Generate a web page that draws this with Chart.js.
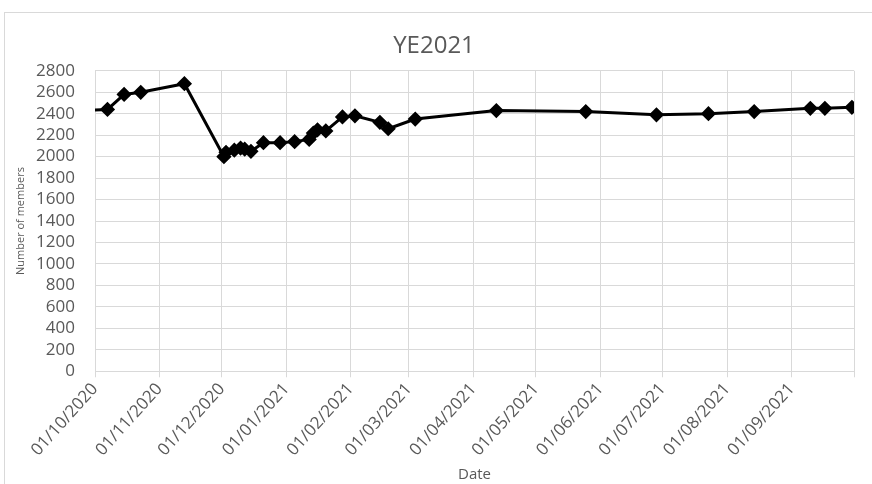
<!DOCTYPE html>
<html>
<head>
<meta charset="utf-8">
<script src="https://cdn.jsdelivr.net/npm/chart.js@4"></script>
<style>
  html, body { margin: 0; padding: 0; background: #fff; }
  #frame { position: absolute; left: 4px; top: 12px; width: 880px; height: 480px; border: 1px solid #d9d9d9; }
  #wrap { position: absolute; left: 0; top: 0; width: 872px; height: 484px; }
</style>
</head>
<body>
<div id="frame"></div>
<div id="wrap"><canvas id="lineChart" width="872" height="484"></canvas></div>
<script>
// membership counts by date (dd/mm/yyyy)
var dates = ['27/09/2020', '07/10/2020', '15/10/2020', '23/10/2020', '13/11/2020',
    '02/12/2020', '03/12/2020', '07/12/2020', '10/12/2020', '12/12/2020', '15/12/2020',
    '21/12/2020', '29/12/2020', '05/01/2021', '12/01/2021', '14/01/2021', '16/01/2021',
    '20/01/2021', '28/01/2021', '03/02/2021', '15/02/2021', '19/02/2021', '04/03/2021',
    '12/04/2021', '25/05/2021', '28/06/2021', '23/07/2021', '14/08/2021', '10/09/2021',
    '17/09/2021', '30/09/2021'];
var members = [2430, 2440, 2580, 2600, 2680,
    2000, 2040, 2060, 2080, 2070, 2050,
    2130, 2130, 2140, 2160, 2220, 2250,
    2240, 2370, 2380, 2320, 2260, 2350,
    2430, 2420, 2390, 2400, 2420, 2450,
    2450, 2460];
var tickLabels = ['01/10/2020', '01/11/2020', '01/12/2020', '01/01/2021', '01/02/2021',
    '01/03/2021', '01/04/2021', '01/05/2021', '01/06/2021', '01/07/2021', '01/08/2021',
    '01/09/2021'];
var axisStart = '01/10/2020';
var axisEnd = '01/10/2021';

function dayNum(s) {
    var p = s.split('/').map(Number);
    return Date.UTC(p[2], p[1] - 1, p[0]) / 864e5;
}

var points = dates.map(function (d, i) { return {x: dayNum(d), y: members[i]}; });
var labelByDay = {};
tickLabels.forEach(function (t) { labelByDay[dayNum(t)] = t; });

var grey = '#595959';
var gridCol = '#d9d9d9';
var font = "'Open Sans', sans-serif";

var ctx = document.getElementById('lineChart').getContext('2d');
new Chart(ctx, {
    type: 'line',
    data: {
        datasets: [{
            label: 'Members',
            data: points,
            borderColor: '#000',
            backgroundColor: '#000',
            borderWidth: 3,
            pointStyle: 'rectRot',
            pointRadius: 5.5,
            pointBackgroundColor: '#000',
            pointBorderColor: '#000',
            tension: 0
        }]
    },
    options: {
        responsive: false,
        animation: false,
        layout: {padding: {left: 14, right: 18, top: 32, bottom: 0}},
        plugins: {
            legend: {display: false},
            tooltip: {enabled: false},
            title: {
                display: true,
                text: 'YE2021',
                color: grey,
                font: {family: font, size: 24, weight: 'normal'},
                padding: {top: 0, bottom: 10}
            }
        },
        scales: {
            x: {
                type: 'linear',
                min: dayNum(axisStart),
                max: dayNum(axisEnd),
                afterBuildTicks: function (scale) {
                    scale.ticks = tickLabels.map(function (t) { return {value: dayNum(t)}; })
                        .concat([{value: dayNum(axisEnd)}]);
                },
                afterFit: function (scale) {
                    scale.paddingLeft = 0;
                    scale.paddingRight = 0;
                    scale.height += 4;
                },
                ticks: {
                    autoSkip: false,
                    minRotation: 48,
                    maxRotation: 48,
                    color: grey,
                    padding: 2,
                    font: {family: font, size: 17},
                    callback: function (v) { return labelByDay[v] || ''; }
                },
                grid: {color: gridCol, lineWidth: 1, tickLength: 6},
                border: {color: gridCol},
                title: {display: true, text: 'Date', color: grey, padding: 0,
                    font: {family: font, size: 15}}
            },
            y: {
                min: 0,
                max: 2800,
                afterFit: function (scale) { scale.width = 81; },
                ticks: {stepSize: 200, autoSkip: false, color: grey, padding: 20,
                    font: {family: font, size: 17},
                    callback: function (v) { return String(v); }},
                grid: {color: gridCol, lineWidth: 1, tickLength: 0},
                border: {display: false},
                title: {display: true, text: 'Number of members', color: grey, padding: 0,
                    font: {family: font, size: 11}}
            }
        }
    }
});
</script>
</body>
</html>
